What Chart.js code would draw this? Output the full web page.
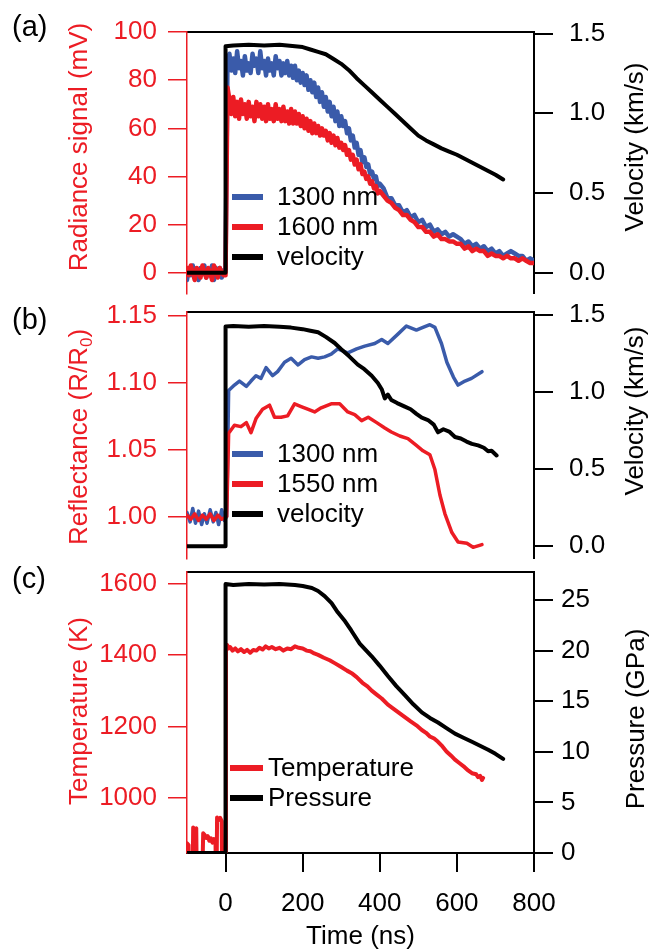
<!DOCTYPE html>
<html>
<head>
<meta charset="utf-8">
<title>Radiance, reflectance and temperature vs time</title>
<script src="https://cdn.jsdelivr.net/npm/chart.js@4.4.1/dist/chart.umd.min.js"></script>
<style>
  body { margin: 0; background: #fff; }
  #wrap { position: relative; width: 651px; height: 950px; overflow: hidden; }
  #wrap canvas { position: absolute; left: 0; }
</style>
</head>
<body>
<div id="wrap">
  <canvas id="chartA" width="651" height="325" style="top:0px"></canvas>
  <canvas id="chartB" width="651" height="310" style="top:280px"></canvas>
  <canvas id="chartC" width="651" height="405" style="top:545px"></canvas>
</div>
<script>
const RED = "#EC1C24";
const BLUE = "#3A5BAA";
const BLACK = "#000000";
const FAMILY = "'Liberation Sans', Arial, Helvetica, sans-serif";

// Shared time axis (ns)
const timeTicks = [0, 200, 400, 600, 800];

// (a) radiance signal (mV): 5 ns steps up to 400 ns, then 10 ns
const timeA = [
  -100, -95, -90, -85, -80, -75, -70, -65, -60, -55,
  -50, -45, -40, -35, -30, -25, -20, -15, -10, -5,
  0, 5, 10, 15, 20, 25, 30, 35, 40, 45,
  50, 55, 60, 65, 70, 75, 80, 85, 90, 95,
  100, 105, 110, 115, 120, 125, 130, 135, 140, 145,
  150, 155, 160, 165, 170, 175, 180, 185, 190, 195,
  200, 205, 210, 215, 220, 225, 230, 235, 240, 245,
  250, 255, 260, 265, 270, 275, 280, 285, 290, 295,
  300, 305, 310, 315, 320, 325, 330, 335, 340, 345,
  350, 355, 360, 365, 370, 375, 380, 385, 390, 395,
  400,
  410, 420, 430, 440, 450, 460, 470, 480, 490, 500,
  510, 520, 530, 540, 550, 560, 570, 580, 590, 600,
  610, 620, 630, 640, 650, 660, 670, 680, 690, 700,
  710, 720, 730, 740, 750, 760, 770, 780, 790, 800,
];
const radiance1300 = [
  -3, 2, -1, 3, -2, 1, -3, 2, 0, 3,
  -2, 1, -1, 3, -3, 2, -1, 2, -2, 1,
  1, 88, 91, 84, 89, 83, 92, 85, 88, 82,
  90, 84, 87, 83, 91, 86, 89, 83, 92, 85,
  88, 82, 89, 84, 87, 82, 90, 85, 88, 82,
  87, 83, 88, 82, 86, 81, 86, 80, 84, 79,
  83, 78, 82, 76, 80, 75, 79, 73, 77, 71,
  75, 69, 73, 67, 71, 65, 69, 63, 67, 61,
  65, 61, 63, 58, 60, 55, 57, 52, 54, 49,
  51, 46, 48, 44, 45, 41, 42, 39, 40, 36,
  37,
  35, 31, 31, 28, 28, 25, 26, 23, 24, 21,
  22, 19, 20, 17, 18, 16, 17, 15, 16, 15,
  14, 12, 13, 11, 12, 10, 11, 9, 10, 8,
  9, 7, 8, 9, 8, 7, 7, 5, 6, 5,
];
const radiance1600 = [
  2, -1, 3, 0, -3, 2, 1, -2, 3, 0,
  -2, 2, 0, -3, 3, 1, -2, 2, 0, -1,
  -1, 77, 72, 66, 73, 65, 71, 64, 72, 66,
  70, 64, 71, 65, 69, 63, 71, 65, 70, 64,
  69, 63, 70, 64, 68, 63, 70, 64, 68, 63,
  69, 63, 67, 62, 68, 62, 67, 62, 66, 61,
  65, 60, 64, 59, 63, 58, 62, 58, 61, 57,
  60, 57, 59, 55, 58, 54, 57, 53, 56, 52,
  54, 51, 53, 49, 51, 47, 49, 45, 47, 43,
  45, 41, 42, 39, 40, 37, 38, 35, 36, 33,
  34,
  32, 30, 29, 27, 26, 24, 24, 22, 21, 19,
  19, 17, 17, 15, 16, 14, 14, 13, 13, 12,
  12, 10, 11, 9, 10, 9, 9, 7, 8, 7,
  7, 6, 7, 6, 6, 5, 6, 5, 4, 4,
];
const velTimeA = [-100, 0, 0, 20, 60, 100, 140, 180, 200, 220, 240, 260, 280, 300, 320, 340, 360, 380, 400, 420, 440, 460, 480, 500, 520, 540, 560, 580, 600, 620, 640, 660, 680, 700, 720];
const velocityA = [0, 0, 1.42, 1.425, 1.43, 1.425, 1.43, 1.42, 1.415, 1.40, 1.385, 1.37, 1.34, 1.31, 1.27, 1.22, 1.175, 1.13, 1.085, 1.04, 0.995, 0.95, 0.905, 0.86, 0.83, 0.805, 0.78, 0.76, 0.74, 0.715, 0.69, 0.665, 0.64, 0.615, 0.585];
const radianceTicks = [0, 20, 40, 60, 80, 100];
const velocityTicks = [0, 0.5, 1.0, 1.5];

// (b) reflectance R/R0
const reflTime1300 = [-100, -92, -85, -78, -70, -62, -55, -48, -40, -32, -25, -18, -10, -3, 3, 8, 23, 36, 54, 66, 79, 92, 105, 122, 135, 153, 170, 188, 205, 223, 240, 257, 274, 291, 317, 340, 361, 387, 405, 421, 447, 469, 495, 512, 530, 543, 560, 574, 591, 603, 621, 638, 665];
const refl1300 = [1.003, 0.996, 1.006, 0.995, 1.004, 0.994, 1.002, 0.995, 1.005, 0.996, 1.003, 0.994, 1.005, 0.997, 1.000, 1.094, 1.098, 1.101, 1.097, 1.101, 1.105, 1.103, 1.111, 1.105, 1.108, 1.115, 1.118, 1.113, 1.117, 1.119, 1.118, 1.119, 1.121, 1.125, 1.122, 1.125, 1.127, 1.129, 1.132, 1.129, 1.136, 1.142, 1.139, 1.141, 1.143, 1.141, 1.129, 1.115, 1.104, 1.098, 1.101, 1.103, 1.108];
const reflTime1550 = [-100, -90, -80, -70, -60, -50, -40, -30, -20, -10, 3, 8, 23, 40, 54, 66, 79, 96, 114, 127, 144, 161, 179, 196, 213, 231, 248, 274, 296, 317, 335, 353, 370, 392, 413, 430, 452, 473, 495, 512, 530, 543, 556, 569, 587, 603, 626, 642, 665];
const refl1550 = [1.001, 0.998, 1.002, 0.997, 1.001, 0.998, 1.002, 0.997, 1.001, 0.998, 1.000, 1.062, 1.068, 1.067, 1.070, 1.0625, 1.073, 1.080, 1.083, 1.074, 1.074, 1.075, 1.084, 1.082, 1.080, 1.078, 1.081, 1.084, 1.084, 1.078, 1.076, 1.0715, 1.074, 1.070, 1.066, 1.063, 1.060, 1.058, 1.053, 1.049, 1.046, 1.035, 1.016, 1.002, 0.988, 0.981, 0.980, 0.977, 0.979];
const velTimeB = [-100, 0, 0, 20, 60, 100, 140, 170, 200, 220, 240, 260, 283, 300, 320, 343, 360, 379, 395, 405, 413, 421, 430, 445, 465, 480, 495, 509, 525, 540, 551, 565, 580, 595, 610, 625, 639, 655, 670, 681, 690, 703];
const velocityB = [0, 0, 1.428, 1.43, 1.425, 1.43, 1.425, 1.42, 1.41, 1.40, 1.39, 1.36, 1.32, 1.28, 1.235, 1.18, 1.15, 1.107, 1.06, 1.02, 0.96, 0.985, 0.95, 0.93, 0.907, 0.89, 0.86, 0.835, 0.82, 0.79, 0.74, 0.76, 0.745, 0.71, 0.70, 0.68, 0.665, 0.655, 0.64, 0.617, 0.62, 0.59];
const reflTicks = [1.00, 1.05, 1.10, 1.15];

// (c) temperature (K) and pressure (GPa)
const tempTime = [
  -100, -96, -94, -86, -84, -80, -76, -74, -62, -58,
  -54, -50, -46, -42, -38, -34, -30, -26, -24, -22,
  -18, -14, -10, -8, 0, 1, 4, 8, 12, 18,
  25, 32, 40, 48, 56, 64, 72, 80, 88, 96,
  104, 112, 120, 130, 140, 150, 160, 170, 180, 190,
  200, 210, 220, 230, 240, 255, 270, 283, 300, 315,
  327, 340, 355, 368, 379, 392, 405, 421, 435, 450,
  465, 480, 495, 509, 520, 530, 541, 551, 560, 573,
  585, 595, 607, 620, 630, 639, 650, 655, 660, 665,
  668,
];
const temperature = [
  873, 868, 700, 700, 917, 912, 915, 700, 700, 901,
  896, 888, 893, 880, 887, 875, 885, 872, 700, 945,
  938, 944, 935, 700, 700, 1415, 1428, 1418, 1422, 1412,
  1418, 1410, 1416, 1408, 1414, 1406, 1414, 1412, 1420, 1415,
  1424, 1418, 1422, 1416, 1420, 1412, 1418, 1416, 1424, 1420,
  1418, 1412, 1410, 1404, 1400, 1392, 1385, 1377, 1366, 1356,
  1349, 1338, 1322, 1312, 1300, 1289, 1278, 1261, 1250, 1238,
  1226, 1214, 1203, 1190, 1182, 1172, 1166, 1157, 1147, 1130,
  1118, 1107, 1097, 1086, 1076, 1069, 1066, 1058, 1062, 1050,
  1056,
];
const presTime = [-100, 0, 0, 20, 60, 100, 140, 180, 200, 224, 240, 257, 275, 291, 310, 326, 348, 379, 400, 421, 443, 465, 487, 509, 530, 551, 573, 595, 617, 639, 660, 681, 700, 720];
const pressure = [0, 0, 26.6, 26.5, 26.6, 26.55, 26.6, 26.5, 26.4, 26.2, 25.9, 25.4, 24.7, 23.8, 22.9, 22.0, 20.7, 19.45, 18.5, 17.5, 16.5, 15.6, 14.7, 13.9, 13.35, 12.9, 12.35, 11.8, 11.4, 11.0, 10.6, 10.2, 9.8, 9.3];
const tempTicks = [1000, 1200, 1400, 1600];
const presTicks = [0, 5, 10, 15, 20, 25];

Chart.defaults.font.family = FAMILY;
Chart.defaults.color = BLACK;

// Helpers
const font = (size) => `${size}px ${FAMILY}`;
const pts = (xs, ys) => xs.map((x, i) => ({ x, y: ys[i] }));
const fixedTicks = (values) => (scale) => {
  scale.ticks = values.map((v) => ({ value: v }));
};

function series(label, xs, ys, color, width, order, yAxisID) {
  return {
    label,
    data: pts(xs, ys),
    borderColor: color,
    backgroundColor: color,
    borderWidth: width,
    borderJoinStyle: "round",
    borderCapStyle: "round",
    pointRadius: 0,
    tension: 0,
    order,
    yAxisID,
  };
}

function leftAxis(min, max, ticks, digits) {
  return {
    type: "linear",
    position: "left",
    min,
    max,
    afterBuildTicks: fixedTicks(ticks),
    afterFit: (s) => { s.width = 187; },
    ticks: { color: RED, font: { size: 26 }, padding: 11, callback: (v) => Number(v).toFixed(digits) },
    grid: { drawOnChartArea: false, tickLength: 19, color: RED, lineWidth: 1.5 },
    border: { color: RED, width: 1.5 },
  };
}

function rightAxis(min, max, ticks, digits, pad) {
  return {
    type: "linear",
    position: "right",
    min,
    max,
    afterBuildTicks: fixedTicks(ticks),
    afterFit: (s) => { s.width = 117; },
    ticks: { color: BLACK, font: { size: 26 }, padding: pad, callback: (v) => Number(v).toFixed(digits) },
    grid: { drawOnChartArea: false, tickLength: 19, color: BLACK, lineWidth: 2 },
    border: { color: BLACK, width: 2 },
  };
}

// Top edge of each panel: an x axis with only its border shown
function topFrame() {
  return {
    type: "linear",
    position: "top",
    min: -100,
    max: 800,
    ticks: { display: false },
    grid: { display: false },
    border: { color: BLACK, width: 2 },
    afterFit: (s) => { s.height = 0; },
  };
}

// Vertical text; "_" marks a one character subscript
function rotatedText(ctx, text, cx, cy, color) {
  const split = text.split("_");
  const parts = [{ t: split[0], sub: false }];
  if (split.length > 1) {
    parts.push({ t: split[1].charAt(0), sub: true });
    parts.push({ t: split[1].slice(1), sub: false });
  }
  ctx.save();
  ctx.translate(cx, cy);
  ctx.rotate(-Math.PI / 2);
  ctx.fillStyle = color;
  ctx.textAlign = "left";
  ctx.textBaseline = "middle";
  const widths = parts.map((p) => {
    ctx.font = font(p.sub ? 17 : 26);
    return ctx.measureText(p.t).width;
  });
  let x = -widths.reduce((a, b) => a + b, 0) / 2;
  parts.forEach((p, i) => {
    ctx.font = font(p.sub ? 17 : 26);
    ctx.fillText(p.t, x, p.sub ? 7 : 0);
    x += widths[i];
  });
  ctx.restore();
}

// Panel letter and the two axis titles
const panelText = {
  id: "panelText",
  afterDraw(chart, args, o) {
    const ctx = chart.ctx;
    ctx.save();
    ctx.font = font(29);
    ctx.fillStyle = BLACK;
    ctx.textAlign = "left";
    ctx.textBaseline = "middle";
    ctx.fillText(o.label, o.labelX, o.labelY);
    ctx.restore();
    rotatedText(ctx, o.left, o.leftX, o.leftY, RED);
    rotatedText(ctx, o.right, o.rightX, o.rightY, BLACK);
  },
};

// Legend drawn inside the plot area
const insetLegend = {
  id: "insetLegend",
  afterDraw(chart, args, o) {
    const ctx = chart.ctx;
    ctx.save();
    ctx.font = font(26);
    ctx.textAlign = "left";
    ctx.textBaseline = "middle";
    chart.data.datasets.forEach((ds, i) => {
      const y = o.y + i * o.dy;
      ctx.strokeStyle = ds.borderColor;
      ctx.lineWidth = 6;
      ctx.beginPath();
      ctx.moveTo(o.x, y);
      ctx.lineTo(o.x + o.len, y);
      ctx.stroke();
      ctx.fillStyle = BLACK;
      ctx.fillText(ds.label, o.textX, y + 1);
    });
    ctx.restore();
  },
};

const baseOptions = {
  responsive: false,
  animation: false,
  events: [],
  plugins: { legend: { display: false }, tooltip: { enabled: false } },
};

// (a) Radiance
new Chart(document.getElementById("chartA"), {
  type: "line",
  data: {
    datasets: [
      series("1300 nm", timeA, radiance1300, BLUE, 4.5, 2, "y"),
      series("1600 nm", timeA, radiance1600, RED, 4.5, 1, "y"),
      series("velocity", velTimeA, velocityA, BLACK, 4, 0, "y2"),
    ],
  },
  options: {
    ...baseOptions,
    layout: { padding: { top: 22, bottom: 24, left: 0, right: 0 } },
    scales: {
      x: topFrame(),
      y: leftAxis(-8.58, 100.2, radianceTicks, 0),
      y2: rightAxis(-0.129, 1.512, velocityTicks, 1, 16),
    },
    plugins: {
      ...baseOptions.plugins,
      panelText: {
        label: "(a)", labelX: 12, labelY: 28,
        left: "Radiance signal (mV)", leftX: 80, leftY: 147,
        right: "Velocity (km/s)", rightX: 636, rightY: 147,
      },
      insetLegend: { x: 232, len: 31, textX: 277, y: 197, dy: 30 },
    },
  },
  plugins: [panelText, insetLegend],
});

// (b) Reflectance
new Chart(document.getElementById("chartB"), {
  type: "line",
  data: {
    datasets: [
      series("1300 nm", reflTime1300, refl1300, BLUE, 3.5, 2, "y"),
      series("1550 nm", reflTime1550, refl1550, RED, 3.5, 1, "y"),
      series("velocity", velTimeB, velocityB, BLACK, 4, 0, "y2"),
    ],
  },
  options: {
    ...baseOptions,
    layout: { padding: { top: 21, bottom: 24, left: 0, right: 0 } },
    scales: {
      x: topFrame(),
      y: leftAxis(0.96875, 1.15278, reflTicks, 2),
      y2: rightAxis(-0.0786, 1.524, velocityTicks, 1, 16),
    },
    plugins: {
      ...baseOptions.plugins,
      panelText: {
        label: "(b)", labelX: 12, labelY: 41,
        left: "Reflectance (R/R_0)", leftX: 80, leftY: 157,
        right: "Velocity (km/s)", rightX: 636, rightY: 131,
      },
      insetLegend: { x: 232, len: 31, textX: 277, y: 174, dy: 30 },
    },
  },
  plugins: [panelText, insetLegend],
});

// (c) Temperature and pressure
new Chart(document.getElementById("chartC"), {
  type: "line",
  data: {
    datasets: [
      series("Temperature", tempTime, temperature, RED, 4, 1, "y"),
      series("Pressure", presTime, pressure, BLACK, 4, 0, "y2"),
    ],
  },
  options: {
    ...baseOptions,
    layout: { padding: { top: 22, bottom: 0, left: 0, right: 0 } },
    scales: {
      x: {
        type: "linear",
        position: "bottom",
        min: -100,
        max: 800,
        afterBuildTicks: fixedTicks(timeTicks),
        afterFit: (s) => { s.height = 97; },
        ticks: { color: BLACK, font: { size: 26 }, padding: 16, maxRotation: 0 },
        grid: { drawOnChartArea: false, tickLength: 19, color: BLACK, lineWidth: 2 },
        border: { color: BLACK, width: 2 },
        title: { display: true, text: "Time (ns)", color: BLACK, font: { size: 26, lineHeight: 1 }, padding: 0 },
      },
      xTop: topFrame(),
      y: leftAxis(845.9, 1633, tempTicks, 0),
      y2: rightAxis(0, 27.82, presTicks, 0, 8),
    },
    plugins: {
      ...baseOptions.plugins,
      panelText: {
        label: "(c)", labelX: 12, labelY: 35,
        left: "Temperature (K)", leftX: 80, leftY: 166,
        right: "Pressure (GPa)", rightX: 637, rightY: 174,
      },
      insetLegend: { x: 230, len: 33, textX: 268, y: 223, dy: 30 },
    },
  },
  plugins: [panelText, insetLegend],
});
</script>
</body>
</html>
